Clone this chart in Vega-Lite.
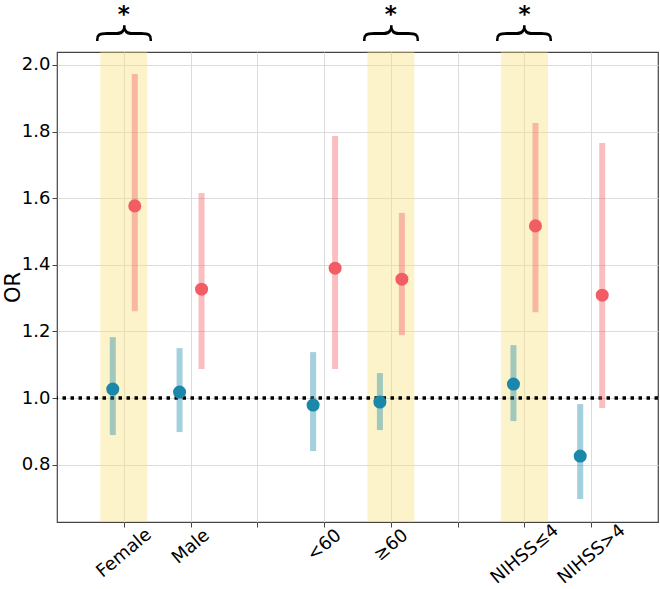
{
  "$schema": "https://vega.github.io/schema/vega-lite/v6.json",
  "autosize": {"type": "none"},
  "width": 601,
  "height": 470,
  "padding": {"left": 57, "top": 52, "right": 2, "bottom": 67},
  "background": "white",
  "config": {
    "font": "DejaVu Sans",
    "view": {"stroke": "#444", "strokeWidth": 1.2},
    "axis": {
      "labelFont": "DejaVu Sans",
      "titleFont": "DejaVu Sans",
      "labelFontSize": 18,
      "labelColor": "black",
      "labelOverlap": false,
      "labelFlush": false,
      "gridColor": "#dcdcdc",
      "gridWidth": 1,
      "tickColor": "#444",
      "tickSize": 5,
      "domain": false
    }
  },
  "datasets": {
    "est": [
      {"pos": 0, "group": "control", "or": 1.027, "lo": 0.889, "hi": 1.183},
      {"pos": 0, "group": "treat", "or": 1.577, "lo": 1.261, "hi": 1.973},
      {"pos": 1, "group": "control", "or": 1.018, "lo": 0.898, "hi": 1.15},
      {"pos": 1, "group": "treat", "or": 1.327, "lo": 1.087, "hi": 1.616},
      {"pos": 3, "group": "control", "or": 0.979, "lo": 0.841, "hi": 1.138},
      {"pos": 3, "group": "treat", "or": 1.39, "lo": 1.087, "hi": 1.787},
      {"pos": 4, "group": "control", "or": 0.988, "lo": 0.904, "hi": 1.075},
      {"pos": 4, "group": "treat", "or": 1.357, "lo": 1.189, "hi": 1.556},
      {"pos": 6, "group": "control", "or": 1.042, "lo": 0.931, "hi": 1.159},
      {"pos": 6, "group": "treat", "or": 1.517, "lo": 1.258, "hi": 1.826},
      {"pos": 7, "group": "control", "or": 0.826, "lo": 0.697, "hi": 0.982},
      {"pos": 7, "group": "treat", "or": 1.309, "lo": 0.97, "hi": 1.766}
    ],
    "sig": [
      {"pos": 0, "brace": "{", "star": "*"},
      {"pos": 4, "brace": "{", "star": "*"},
      {"pos": 6, "brace": "{", "star": "*"}
    ],
    "ref": [{"ref": 1.0}]
  },
  "layer": [
    {
      "data": {"name": "sig"},
      "mark": {"type": "rule", "color": "#f7e27a", "opacity": 0.4, "strokeWidth": 47},
      "encoding": {
        "x": {
          "field": "pos",
          "type": "quantitative",
          "scale": {"domain": [-1, 8], "nice": false, "zero": false},
          "axis": {
            "values": [0, 1, 2, 3, 4, 5, 6, 7],
            "labelExpr": "['Female','Male','','<60','≥60','','NIHSS≤4','NIHSS>4'][datum.value]",
            "labelAngle": -40,
            "labelAlign": "center",
            "labelBaseline": "middle",
            "labelPadding": {"condition": [{"test": "datum.value >= 6", "value": 27}, {"test": "datum.value == 0", "value": 26}, {"test": "datum.value == 1", "value": 19.5}], "value": 18},
            "title": null,
            "grid": true
          }
        }
      }
    },
    {
      "data": {"name": "ref"},
      "mark": {"type": "rule", "color": "black", "strokeWidth": 3.5, "strokeDash": [3.5, 4.5]},
      "encoding": {
        "y": {
          "field": "ref",
          "type": "quantitative",
          "scale": {"domain": [0.628, 2.039], "nice": false, "zero": false},
          "axis": {
            "values": [0.8, 1.0, 1.2, 1.4, 1.6, 1.8, 2.0],
            "format": ".1f",
            "title": "OR",
            "titleFontSize": 21,
            "titleFontWeight": "normal",
            "titleColor": "black",
            "titleX": -44,
            "titleY": 235,
            "titleAngle": -90,
            "titleAlign": "center",
            "titleBaseline": "middle",
            "grid": true
          }
        }
      }
    },
    {
      "data": {"name": "est"},
      "transform": [{"filter": "datum.group === 'control'"}],
      "layer": [
        {
          "mark": {"type": "rule", "color": "#1b87ab", "opacity": 0.4, "strokeWidth": 6, "xOffset": -11},
          "encoding": {"x": {"field": "pos", "type": "quantitative"}, "y": {"field": "lo", "type": "quantitative"}, "y2": {"field": "hi"}}
        },
        {
          "mark": {"type": "circle", "color": "#1b87ab", "opacity": 1, "size": 170, "xOffset": -11},
          "encoding": {"x": {"field": "pos", "type": "quantitative"}, "y": {"field": "or", "type": "quantitative"}}
        }
      ]
    },
    {
      "data": {"name": "est"},
      "transform": [{"filter": "datum.group === 'treat'"}],
      "layer": [
        {
          "mark": {"type": "rule", "color": "#f25c65", "opacity": 0.4, "strokeWidth": 6, "xOffset": 11},
          "encoding": {"x": {"field": "pos", "type": "quantitative"}, "y": {"field": "lo", "type": "quantitative"}, "y2": {"field": "hi"}}
        },
        {
          "mark": {"type": "circle", "color": "#f25c65", "opacity": 1, "size": 170, "xOffset": 11},
          "encoding": {"x": {"field": "pos", "type": "quantitative"}, "y": {"field": "or", "type": "quantitative"}}
        }
      ]
    },
    {
      "data": {"name": "sig"},
      "mark": {"type": "text", "font": "DejaVu Sans", "fontWeight": 200, "fontSize": 60, "angle": 90, "align": "center", "baseline": "middle", "color": "black", "clip": false},
      "encoding": {"x": {"field": "pos", "type": "quantitative"}, "y": {"datum": 2.093, "type": "quantitative"}, "text": {"field": "brace"}}
    },
    {
      "data": {"name": "sig"},
      "mark": {"type": "text", "font": "DejaVu Sans", "fontWeight": "bold", "fontSize": 23, "align": "center", "baseline": "alphabetic", "color": "black", "clip": false},
      "encoding": {"x": {"field": "pos", "type": "quantitative"}, "y": {"datum": 2.128, "type": "quantitative"}, "text": {"field": "star"}}
    }
  ]
}
